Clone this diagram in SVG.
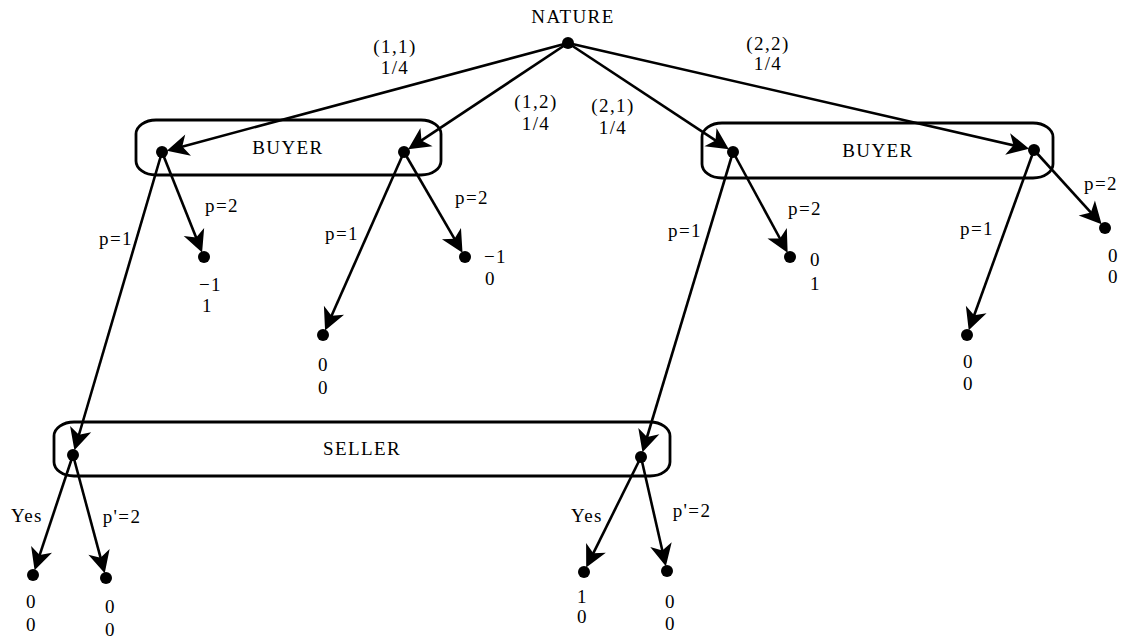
<svg xmlns="http://www.w3.org/2000/svg" width="1123" height="639" viewBox="0 0 1123 639">
<style>
text{font-family:'Liberation Serif','DejaVu Serif',serif;font-size:19px;letter-spacing:1.4px;fill:#000}
.m{text-anchor:middle}
.e{stroke:#000;stroke-width:2.6;fill:none;marker-end:url(#ah)}
.set{fill:none;stroke:#000;stroke-width:2.8}
.dot{fill:#000}
</style>
<defs>
<marker id="ah" markerUnits="userSpaceOnUse" viewBox="-18 -13 26 26" markerWidth="26" markerHeight="26" refX="0" refY="0" orient="auto">
<path d="M7,0 L-15,-11 L-9,0 L-15,11 Z" fill="#000"/>
</marker>
</defs>
<rect width="1123" height="639" fill="#fff"/>
<g id="infosets">
<rect id="buyer-left" class="set" x="136" y="120" width="305" height="55" rx="20" ry="14"/>
<rect id="buyer-right" class="set" x="702" y="123" width="351" height="55" rx="20" ry="14"/>
<rect id="seller" class="set" x="54" y="422" width="616" height="54" rx="20" ry="14"/>
<text class="m" x="288" y="154">BUYER</text>
<text class="m" x="878" y="157">BUYER</text>
<text class="m" x="362" y="455">SELLER</text>
</g>
<g id="connectors">
<line class="e" x1="568" y1="43" x2="173.6" y2="148.9"/>
<line class="e" x1="568" y1="43" x2="414.0" y2="145.4"/>
<line class="e" x1="568" y1="43" x2="723.0" y2="145.4"/>
<line class="e" x1="568" y1="43" x2="1022.3" y2="147.3"/>
<line class="e" x1="162" y1="152" x2="199.5" y2="245.9"/>
<line class="e" x1="162" y1="152" x2="76.4" y2="443.5"/>
<line class="e" x1="404" y1="152" x2="327.9" y2="324.0"/>
<line class="e" x1="404" y1="152" x2="459.0" y2="246.6"/>
<line class="e" x1="733" y1="152" x2="784.3" y2="246.5"/>
<line class="e" x1="733" y1="152" x2="644.5" y2="445.5"/>
<line class="e" x1="1034" y1="150" x2="971.1" y2="323.7"/>
<line class="e" x1="1034" y1="150" x2="1096.9" y2="219.1"/>
<line class="e" x1="73" y1="455" x2="36.8" y2="563.6"/>
<line class="e" x1="73" y1="455" x2="102.9" y2="566.4"/>
<line class="e" x1="641" y1="457" x2="589.3" y2="561.3"/>
<line class="e" x1="641" y1="457" x2="664.3" y2="559.3"/>
</g>
<g id="edge-labels">
<text class="m" x="395" y="53">(1,1)</text>
<text class="m" x="395" y="74">1/4</text>
<text class="m" x="536" y="108">(1,2)</text>
<text class="m" x="536" y="130">1/4</text>
<text class="m" x="613" y="112">(2,1)</text>
<text class="m" x="613" y="134">1/4</text>
<text class="m" x="768" y="50">(2,2)</text>
<text class="m" x="768" y="70">1/4</text>
<text class="m" x="116" y="245">p=1</text>
<text class="m" x="222" y="212">p=2</text>
<text class="m" x="342" y="240">p=1</text>
<text class="m" x="472" y="204">p=2</text>
<text class="m" x="685" y="237">p=1</text>
<text class="m" x="805" y="215">p=2</text>
<text class="m" x="977" y="235">p=1</text>
<text class="m" x="1101" y="190">p=2</text>
<text class="m" x="27" y="522">Yes</text>
<text class="m" x="122" y="523">p'=2</text>
<text class="m" x="587" y="522">Yes</text>
<text class="m" x="692" y="517">p'=2</text>
</g>
<g id="n-nature"><circle class="dot" cx="568" cy="43" r="6"/><text class="m" x="573" y="23">NATURE</text></g>
<g id="n-buyer-11"><circle class="dot" cx="162" cy="152" r="6"/></g>
<g id="n-buyer-12"><circle class="dot" cx="404" cy="152" r="6"/></g>
<g id="n-buyer-21"><circle class="dot" cx="733" cy="152" r="6"/></g>
<g id="n-buyer-22"><circle class="dot" cx="1034" cy="150" r="6"/></g>
<g id="n-seller-11"><circle class="dot" cx="73" cy="455" r="6"/></g>
<g id="n-seller-21"><circle class="dot" cx="641" cy="457" r="6"/></g>
<g id="t-a2"><circle class="dot" cx="204" cy="257" r="6"/><text x="199" y="291">−1</text><text x="202" y="312">1</text></g>
<g id="t-b1"><circle class="dot" cx="323" cy="335" r="6"/><text x="318" y="371">0</text><text x="318" y="394">0</text></g>
<g id="t-b2"><circle class="dot" cx="465" cy="257" r="6"/><text x="484" y="263">−1</text><text x="485" y="285">0</text></g>
<g id="t-c2"><circle class="dot" cx="790" cy="257" r="6"/><text x="810" y="266">0</text><text x="810" y="290">1</text></g>
<g id="t-d1"><circle class="dot" cx="967" cy="335" r="6"/><text x="963" y="368">0</text><text x="963" y="390">0</text></g>
<g id="t-d2"><circle class="dot" cx="1105" cy="228" r="6"/><text x="1108" y="262">0</text><text x="1108" y="283">0</text></g>
<g id="t-e1"><circle class="dot" cx="33" cy="575" r="6"/><text x="26" y="608">0</text><text x="26" y="631">0</text></g>
<g id="t-e2"><circle class="dot" cx="106" cy="578" r="6"/><text x="105" y="613">0</text><text x="105" y="636">0</text></g>
<g id="t-f1"><circle class="dot" cx="584" cy="572" r="6"/><text x="577" y="603">1</text><text x="577" y="623">0</text></g>
<g id="t-f2"><circle class="dot" cx="667" cy="571" r="6"/><text x="665" y="608">0</text><text x="665" y="630">0</text></g>
</svg>
